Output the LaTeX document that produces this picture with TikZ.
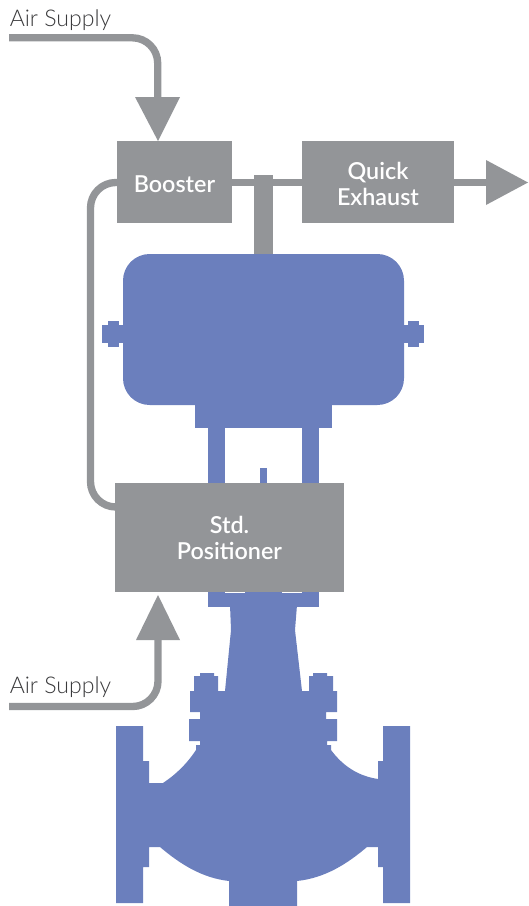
\documentclass[tikz,border=0pt]{standalone}
\usepackage{fontspec}
\setmainfont{Lato}
\newfontfamily\boxfont{Lato Semibold}
\newfontfamily\labelfont{Lato Light}
\definecolor{pipegray}{HTML}{939598}
\definecolor{valveblue}{HTML}{6B7FBD}
\definecolor{labelink}{HTML}{3A3A3C}
\tikzset{
  x=0.75pt,y=-0.75pt,
  pipe/.style={draw=pipegray,line width=5.5pt,rounded corners=19pt},
  thinpipe/.style={draw=pipegray,line width=5.5pt},
  head/.style={fill=pipegray,draw=none},
  blue/.style={fill=valveblue,draw=none},
  graybox/.style={fill=pipegray,draw=none,inner sep=0pt,outer sep=0pt,anchor=north west,text=white,align=center,font=\fontsize{17.5}{19.5}\boxfont},
  supply/.style={text=labelink,inner sep=0pt,font=\fontsize{17.3}{19}\labelfont}
}
\begin{document}
\begin{tikzpicture}
\useasboundingbox (0,0) rectangle (528,906);
% named free ends
\coordinate (topstart) at (9,37.8);
\coordinate (topbend) at (157.7,37.8);
\coordinate (toptip) at (157.7,100);
\coordinate (lowstart) at (9,706.5);
\coordinate (lowbend) at (158,706.5);
\coordinate (lowtip) at (158,638);
\coordinate (loopa) at (119,182.5);
\coordinate (loopb) at (90.5,182.5);
\coordinate (loopc) at (90.5,507);
\coordinate (loopd) at (117,507);
% valve body
\path[blue] (230,605) -- (231,630) -- (225,691) -- (218,691) -- (218,676) -- (214,676) -- (214,673) -- (200,673) -- (200,676) -- (194,676) -- (194,691) -- (190,691) -- (190,712) -- (200,712) -- (200,719) -- (189,719) -- (189,741) -- (200,741) -- (200,745) -- (196,745) -- (196,750)
  .. controls (186,765) and (175,775) .. (163,783) -- (149,783) -- (149,761) -- (143,761) -- (143,726) -- (116,726) -- (116,903) -- (143,903) -- (143,867) -- (149,867) -- (149,847) -- (160,847)
  .. controls (180,864) and (202,878) .. (229,881) -- (229,906) -- (297,906) -- (297,881)
  .. controls (325,878) and (347,864) .. (367,847) -- (378,847) -- (378,867) -- (383,867) -- (383,903) -- (410,903) -- (410,726) -- (383,726) -- (383,761) -- (378,761) -- (378,779)
  .. controls (358,776) and (343,766) .. (331,750) -- (331,745) -- (327,745) -- (327,741) -- (337,741) -- (337,719) -- (326,719) -- (326,712) -- (337,712) -- (337,691) -- (333,691) -- (333,676) -- (327,676) -- (327,673) -- (313,673) -- (313,676) -- (309,676) -- (309,691) -- (302,691) -- (295,630) -- (297,605) -- cycle;
\path[blue] (208,590) rectangle (225,607);
\path[blue] (245,590) rectangle (282,607);
\path[blue] (302,590) rectangle (319,607);
\path[blue] (224,593) rectangle (303,607);
% yoke
\path[blue] (208,425) rectangle (225,485);
\path[blue] (302,425) rectangle (319,485);
\path[blue] (260,468) rectangle (267,485);
% actuator
\path[blue] (102,325) rectangle (125,343);
\path[blue] (108,321) rectangle (119,347);
\path[blue] (402,325) rectangle (424,343);
\path[blue] (408,321) rectangle (419,347);
\path[blue] (195,400) rectangle (332,428);
\path[blue,rounded corners=20pt] (123,254) rectangle (404,405);
% pipes
\draw[pipe] (topstart) -- (topbend) -- (toptip);
\draw[pipe] (lowstart) -- (lowbend) -- (lowtip);
\draw[pipe] (loopa) -- (loopb) -- (loopc) -- (loopd);
\path[head] (135,97) -- (180,97) -- (158,141) -- cycle;
\path[head] (136,640) -- (180,640) -- (158,595) -- cycle;
% boxes
\node[graybox,minimum width=86.25pt,minimum height=61.5pt,text depth=0pt] (booster) at (117,141) {\raisebox{-2.5pt}{Booster}};
\node[graybox,minimum width=114pt,minimum height=61.5pt] (quick) at (302,141) {\rule{0pt}{16pt}Quick\\Exhaust};
\node[graybox,minimum width=171.75pt,minimum height=81.75pt] (positioner) at (115,483) {Std.\\Positioner};
% connectors
\coordinate (stemtop) at (263.5,175);
\coordinate (stembottom) at (263.5,254);
\coordinate (outa) at (490,182.3);
\draw[thinpipe] (booster.east |- 0,182.3) -- (quick.west |- 0,182.3);
\draw[draw=pipegray,line width=14.25pt] (stemtop) -- (stembottom);
\draw[thinpipe] (quick.east |- 0,182.3) -- (outa);
\path[head] (486,160) -- (528,182.5) -- (486,205) -- cycle;
% labels
\node[supply,anchor=base west] (airtop) at (9.5,27) {Air Supply};
\node[supply,anchor=base west] (airlow) at (9.5,693.5) {Air Supply};
\end{tikzpicture}
\end{document}
